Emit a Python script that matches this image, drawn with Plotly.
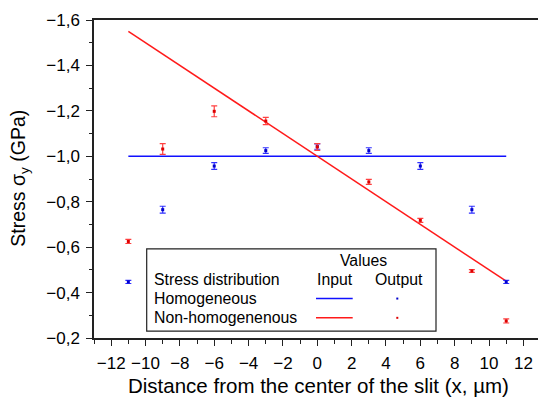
import plotly.graph_objects as go

# Positions along the slit (µm)
x_pos = [-11, -9, -6, -3, 0, 3, 6, 9, 11]

# Input stress profiles (GPa)
input_x = [-11, 11]
input_homog = [-1.0, -1.0]
input_nonhomog = [-1.55, -0.45]

# Output stress values and their uncertainties (GPa)
out_homog = [-0.447, -0.765, -0.957, -1.025, -1.043, -1.025, -0.957, -0.765, -0.447]
err_homog = [0.007, 0.015, 0.015, 0.0125, 0.012, 0.0125, 0.015, 0.015, 0.007]
out_nonhomog = [-0.625, -1.032, -1.198, -1.155, -1.041, -0.887, -0.718, -0.495, -0.275]
err_nonhomog = [0.009, 0.024, 0.024, 0.016, 0.015, 0.011, 0.009, 0.006, 0.009]

x_ticks = list(range(-12, 13, 2))
y_ticks = [-1.6, -1.4, -1.2, -1.0, -0.8, -0.6, -0.4, -0.2]

BLUE = "#1010ff"
RED = "#ff1a1a"
FONT = "Arial, Liberation Sans, sans-serif"

W, H = 538, 398
L, R, T, B = 94, 538, 20, 338.5


def px(xp):
    return (xp - L) / (R - L)


def py(yp):
    return (B - yp) / (B - T)


fig = go.Figure()

fig.add_trace(go.Scatter(x=input_x, y=input_homog, mode="lines",
                         line=dict(color=BLUE, width=1.5), showlegend=False))
fig.add_trace(go.Scatter(x=input_x, y=input_nonhomog, mode="lines",
                         line=dict(color=RED, width=1.5), showlegend=False))

fig.add_trace(go.Scatter(
    x=x_pos, y=out_homog, mode="markers",
    marker=dict(symbol="square", size=3, color="#0000cc"),
    error_y=dict(type="data", array=err_homog, color="#3030ff", thickness=1.2, width=3),
    showlegend=False))
fig.add_trace(go.Scatter(
    x=x_pos, y=out_nonhomog, mode="markers",
    marker=dict(symbol="square", size=3, color="#dd0000"),
    error_y=dict(type="data", array=err_nonhomog, color="#ff4040", thickness=1.2, width=3),
    showlegend=False))

# Legend table: box, headers, rows with line and dot samples
shapes = [
    dict(type="rect", xref="paper", yref="paper",
         x0=px(146.7), x1=px(436), y0=py(331.7), y1=py(249.3),
         line=dict(color="#222", width=1.2), fillcolor="white", layer="above"),
    dict(type="line", xref="paper", yref="paper",
         x0=px(316), x1=px(352.7), y0=py(299), y1=py(299),
         line=dict(color=BLUE, width=1.5)),
    dict(type="line", xref="paper", yref="paper",
         x0=px(316), x1=px(352.7), y0=py(318.3), y1=py(318.3),
         line=dict(color=RED, width=1.5)),
    dict(type="rect", xref="paper", yref="paper",
         x0=px(396.3), x1=px(398.3), y0=py(300), y1=py(298),
         line=dict(width=0), fillcolor="#0000cc"),
    dict(type="rect", xref="paper", yref="paper",
         x0=px(396.3), x1=px(398.3), y0=py(319.3), y1=py(317.3),
         line=dict(width=0), fillcolor="#dd0000"),
]

lfont = dict(family=FONT, size=15.8, color="black")
annotations = [
    dict(text="Values", x=px(363.3), y=py(260.7), xanchor="center"),
    dict(text="Stress distribution", x=px(151.5), y=py(280), xanchor="left"),
    dict(text="Input", x=px(335), y=py(280), xanchor="center"),
    dict(text="Output", x=px(399.3), y=py(280), xanchor="center"),
    dict(text="Homogeneous", x=px(151.5), y=py(299), xanchor="left"),
    dict(text="Non-homogenenous", x=px(151.5), y=py(318.3), xanchor="left"),
]
for a in annotations:
    a.update(xref="paper", yref="paper", yanchor="middle", showarrow=False, font=lfont)

# Axis titles
annotations.append(dict(
    text="Distance from the center of the slit (x, \u00b5m)",
    xref="paper", yref="paper", x=px(318), y=py(386.5),
    xanchor="center", yanchor="middle", showarrow=False,
    font=dict(family=FONT, size=20.5, color="black")))
annotations.append(dict(
    text="Stress \u03c3<sub>y</sub> (GPa)",
    xref="paper", yref="paper", x=px(20), y=py(179),
    xanchor="center", yanchor="middle", textangle=-90, showarrow=False,
    font=dict(family=FONT, size=19.5, color="black")))

fig.update_layout(
    width=W, height=H,
    margin=dict(l=L, r=W - R, t=T, b=H - B, pad=0),
    paper_bgcolor="white", plot_bgcolor="white",
    separators=",.",
    font=dict(family=FONT, size=17, color="black"),
    shapes=shapes, annotations=annotations,
    xaxis=dict(range=[-13, 12.85], tickvals=x_ticks, ticks="outside", ticklen=6,
               tickwidth=1.3, tickcolor="#222", showline=True, linecolor="#222",
               linewidth=1.5, mirror=True, showgrid=False, zeroline=False,
               ticklabelstandoff=3,
               minor=dict(dtick=1, tick0=-13, ticks="outside", ticklen=4,
                          tickwidth=1.2, tickcolor="#222"),
               tickfont=dict(size=17)),
    yaxis=dict(range=[-0.2, -1.6], tickvals=y_ticks, tickformat=".1f",
               ticks="outside", ticklen=6, tickwidth=1.3, tickcolor="#222",
               showline=True, linecolor="#222", linewidth=1.5, mirror=False,
               showgrid=False, zeroline=False, ticklabelstandoff=3,
               minor=dict(dtick=0.1, ticks="outside", ticklen=3,
                          tickwidth=1.2, tickcolor="#222"),
               tickfont=dict(size=17)),
)

fig.write_html("out.html")
